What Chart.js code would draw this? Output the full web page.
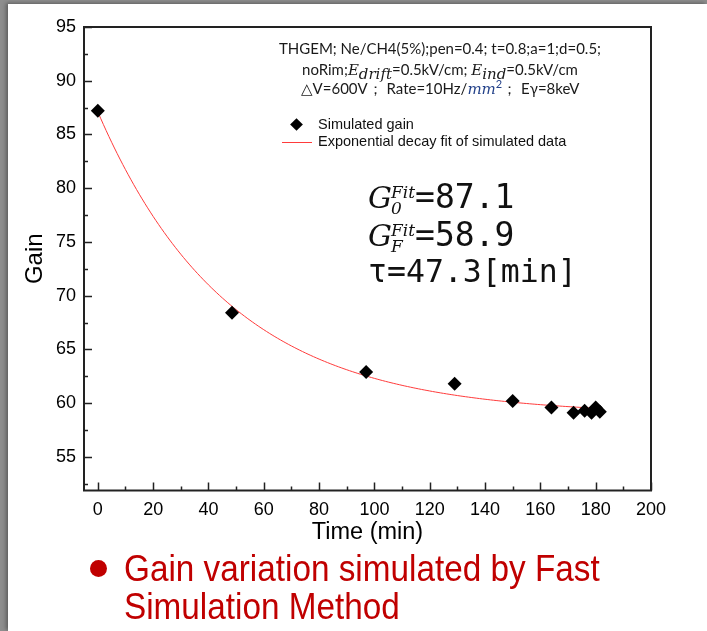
<!DOCTYPE html>
<html>
<head>
<meta charset="utf-8">
<script src="https://cdn.jsdelivr.net/npm/chart.js@4.4.1/dist/chart.umd.min.js"></script>
<style>
html, body { margin: 0; padding: 0; }
body { width: 707px; height: 631px; overflow: hidden; position: relative;
       background: #8e8e8e; }
#sheet { position: absolute; left: 8px; top: 4px; right: 0; bottom: 0; background: #fff;
         box-shadow: -2px -1px 4px rgba(0,0,0,0.35); }
#wrap { position: absolute; left: 0; top: 0; width: 707px; height: 631px; }
.cond { position: absolute; white-space: nowrap; color: #1a1a1a;
        font-family: "Lato", "Open Sans", sans-serif; font-size: 15px;
        transform: translateX(-50%); left: 440px; }
.cond i { font-family: "DejaVu Serif", serif; font-style: italic; font-size: 15px; }
.cond sub, .cond sup { font-size: 11px; line-height: 0; }
.leg { position: absolute; left: 318px; font-family: "Liberation Sans", Arial, sans-serif;
       font-size: 14.5px; color: #111; white-space: nowrap; }
.diamond { position: absolute; left: 292px; top: 120px; width: 9px; height: 9px;
           background: #000; transform: rotate(45deg); }
.redline { position: absolute; left: 282px; top: 142px; width: 30px; height: 1px; background: #ff3b3b; }
.fit { position: absolute; left: 368px; white-space: nowrap; color: #111;
       font-family: "DejaVu Sans Mono", monospace; font-size: 31.5px; line-height: 1; }
.fit.big { font-size: 33px; }
.fit .G { font-family: "DejaVu Serif", serif; font-style: italic; font-size: 30px; }
.fit .ss { display: inline-block; vertical-align: -6px; line-height: 0.95; margin-left: -1px;
           font-family: "DejaVu Serif", serif; font-style: italic; font-size: 17px; }
.fit .ss span { display: block; }
.bottom { position: absolute; left: 124px; white-space: nowrap; color: #c00000;
          font-family: "Liberation Sans", Arial, sans-serif; font-size: 36px;
          transform-origin: 0 0; transform: scaleX(0.925); }
.bullet { position: absolute; left: 90px; top: 560px; width: 17px; height: 17px;
          border-radius: 50%; background: #c00000; }
</style>
</head>
<body>
<div id="sheet"></div>
<div id="wrap"><canvas id="graphCanvas-gain" width="707" height="631"></canvas></div>

<div class="cond" style="top:39px">THGEM; Ne/CH4(5%);pen=0.4; t=0.8;a=1;d=0.5;</div>
<div class="cond" style="top:60px">noRim;<i>E</i><sub><i>drift</i></sub>=0.5kV/cm; <i>E</i><sub><i>ind</i></sub>=0.5kV/cm</div>
<div class="cond" style="top:79px">△V=600V；&nbsp;Rate=10Hz/<i style="color:#24428a">mm</i><sup style="color:#24428a">2</sup>；&nbsp;Eγ=8keV</div>

<div class="diamond"></div>
<div class="leg" style="top:116px">Simulated gain</div>
<div class="redline"></div>
<div class="leg" style="top:133px">Exponential decay fit of simulated data</div>

<div class="fit big" style="top:180px"><span class="G">G</span><span class="ss"><span>Fit</span><span>0</span></span>=<span id="g0"></span></div>
<div class="fit big" style="top:218px"><span class="G">G</span><span class="ss"><span>Fit</span><span><i>F</i></span></span>=<span id="gf"></span></div>
<div class="fit" style="top:256px">τ=<span id="tau"></span>[min]</div>

<div class="bullet"></div>
<div class="bottom" style="top:548px">Gain variation simulated by Fast</div>
<div class="bottom" style="top:586px">Simulation Method</div>

<script>
// simulated gain vs time
var times = [0, 48.5, 97, 129, 150, 164, 172, 176, 178.5, 180, 181.5];
var gains = [87.2, 68.4, 62.9, 61.8, 60.2, 59.6, 59.1, 59.3, 59.1, 59.6, 59.2];

// exponential decay fit parameters
var fitG0 = 87.1;
var fitGF = 58.9;
var fitTau = 47.3;
var fitEnd = 182;

var xTicks = [0, 20, 40, 60, 80, 100, 120, 140, 160, 180, 200];
var xMinor = [10, 30, 50, 70, 90, 110, 130, 150, 170, 190];
var yTicks = [55, 60, 65, 70, 75, 80, 85, 90, 95];
var yMinor = [52.5, 57.5, 62.5, 67.5, 72.5, 77.5, 82.5, 87.5, 92.5];

document.getElementById('g0').textContent = fitG0.toFixed(1);
document.getElementById('gf').textContent = fitGF.toFixed(1);
document.getElementById('tau').textContent = fitTau.toFixed(1);

var simPoints = [];
for (var i in times) {
    simPoints.push({x: times[i], y: gains[i]});
}

var fitPoints = [];
for (var t = 0; t <= fitEnd; t += 1) {
    fitPoints.push({x: t, y: fitGF + (fitG0 - fitGF) * Math.exp(-t / fitTau)});
}

// inward ticks + box frame like Origin plots
var frame = {
    id: 'frame',
    afterDraw: function (chart) {
        var ctx = chart.ctx, a = chart.chartArea;
        var xs = chart.scales.x, ys = chart.scales.y;
        ctx.save();
        ctx.strokeStyle = '#222';
        ctx.lineWidth = 2;
        ctx.strokeRect(a.left, a.top, a.right - a.left, a.bottom - a.top);
        ctx.lineWidth = 1.5;
        ctx.beginPath();
        xTicks.forEach(function (v) {
            var p = Math.round(xs.getPixelForValue(v)) + 0.5;
            ctx.moveTo(p, a.bottom); ctx.lineTo(p, a.bottom - 8);
        });
        xMinor.forEach(function (v) {
            var p = Math.round(xs.getPixelForValue(v)) + 0.5;
            ctx.moveTo(p, a.bottom); ctx.lineTo(p, a.bottom - 4);
        });
        yTicks.forEach(function (v) {
            var p = Math.round(ys.getPixelForValue(v)) + 0.5;
            ctx.moveTo(a.left, p); ctx.lineTo(a.left + 8, p);
        });
        yMinor.forEach(function (v) {
            var p = Math.round(ys.getPixelForValue(v)) + 0.5;
            ctx.moveTo(a.left, p); ctx.lineTo(a.left + 4, p);
        });
        ctx.stroke();
        ctx.restore();
    }
};

var graphTarget = document.getElementById('graphCanvas-gain');

var gainChart = new Chart(graphTarget, {
    type: 'scatter',
    data: {
        datasets: [
            {
                label: 'Simulated gain',
                data: simPoints,
                pointStyle: 'rectRot',
                pointRadius: 7,
                backgroundColor: '#000',
                borderColor: '#000',
                borderWidth: 0,
                order: 1
            },
            {
                label: 'Exponential decay fit of simulated data',
                data: fitPoints,
                showLine: true,
                pointRadius: 0,
                borderColor: '#ff3b3b',
                borderWidth: 1,
                tension: 0,
                order: 2
            }
        ]
    },
    options: {
        responsive: false,
        animation: false,
        layout: { padding: { left: 0, top: 27, right: 56, bottom: 80.5 } },
        plugins: { legend: { display: false }, tooltip: { enabled: false } },
        scales: {
            x: {
                type: 'linear',
                min: -5,
                max: 200,
                afterFit: function (s) { s.height = 60; },
                afterBuildTicks: function (s) { s.ticks = xTicks.map(function (v) { return {value: v}; }); },
                grid: { display: false, drawTicks: false },
                border: { display: false },
                ticks: { padding: 9, color: '#000', maxRotation: 0,
                         font: { family: 'Liberation Sans', size: 18 } },
                title: { display: true, text: 'Time (min)', color: '#000',
                         padding: { top: 0, bottom: 4 },
                         font: { family: 'Liberation Sans', size: 23.5 } }
            },
            y: {
                type: 'linear',
                min: 51.87,
                max: 95,
                afterFit: function (s) { s.width = 84; },
                afterBuildTicks: function (s) { s.ticks = yTicks.map(function (v) { return {value: v}; }); },
                grid: { display: false, drawTicks: false },
                border: { display: false },
                ticks: { padding: 8, color: '#000',
                         font: { family: 'Liberation Sans', size: 18 } },
                title: { display: true, text: 'Gain', color: '#000',
                         padding: { top: 21, bottom: 0 },
                         font: { family: 'Liberation Sans', size: 24 } }
            }
        }
    },
    plugins: [frame]
});
</script>
</body>
</html>
